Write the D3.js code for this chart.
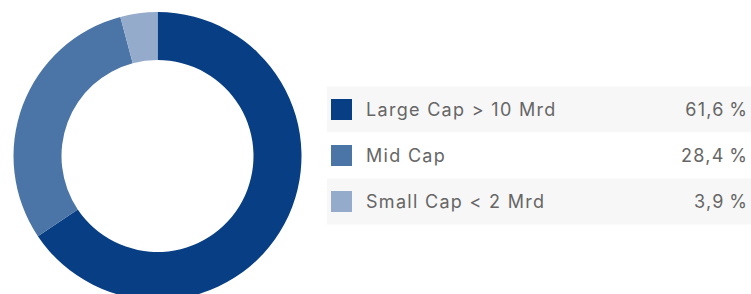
<!DOCTYPE html>
<html>
<head>
<meta charset="utf-8">
<script src="https://cdn.jsdelivr.net/npm/d3@7"></script>
<style>
  body { margin: 0; background: #fff; }
  text { font-family: Inter, Roboto, sans-serif; }
</style>
</head>
<body>
<div class="chart"></div>
<script>
(function(){

  // data
  var categories = ['Large Cap > 10 Mrd', 'Mid Cap', 'Small Cap < 2 Mrd']
  var values = [61.6, 28.4, 3.9]
  var labels = ['61,6\u2009%', '28,4\u2009%', '3,9\u2009%']
  var colors = ['#073e84', '#4c75a7', '#95abcb']

  var width = 751, height = 294

  var svg = d3.select('.chart').append('svg')
        .attr('width', width)
        .attr('height', height)

  // donut
  var outerR = 144, innerR = 96
  var cx = 157.5, cy = 156

  var pie = d3.pie().sort(null).value(function(d){ return d })
  var arc = d3.arc().innerRadius(innerR).outerRadius(outerR)

  var donut = svg.append('g')
        .attr('transform', 'translate(' + cx + ',' + cy + ')')

  donut.selectAll('path')
      .data(pie(values))
      .enter().append('path')
      .attr('d', arc)
      .style('fill', function(d, i){ return colors[i] })

  // legend
  var rowY = d3.scaleBand()
        .domain(categories)
        .range([86.5, 224.5])

  var legend = svg.append('g')

  var rows = legend.selectAll('g')
      .data(categories)
      .enter().append('g')
      .attr('transform', function(d){ return 'translate(0,' + rowY(d) + ')' })

  rows.append('rect')
      .attr('x', 327)
      .attr('width', width - 327)
      .attr('height', rowY.bandwidth())
      .style('fill', function(d, i){ return i % 2 === 0 ? '#f7f7f7' : '#fff' })

  rows.append('rect')
      .attr('x', 331)
      .attr('y', rowY.bandwidth() / 2 - 10.5)
      .attr('width', 21)
      .attr('height', 21)
      .style('fill', function(d, i){ return colors[i] })

  rows.append('text')
      .attr('x', 366)
      .attr('y', rowY.bandwidth() / 2)
      .attr('dy', '0.37em')
      .style('font-size', '18px')
      .style('letter-spacing', '1.3px')
      .style('fill', '#666')
      .text(function(d){ return d })

  rows.append('text')
      .attr('x', 748.3)
      .attr('y', rowY.bandwidth() / 2)
      .attr('dy', '0.37em')
      .attr('text-anchor', 'end')
      .style('font-size', '18px')
      .style('letter-spacing', '1.3px')
      .style('fill', '#666')
      .text(function(d, i){ return labels[i] })

})()
</script>
</body>
</html>
